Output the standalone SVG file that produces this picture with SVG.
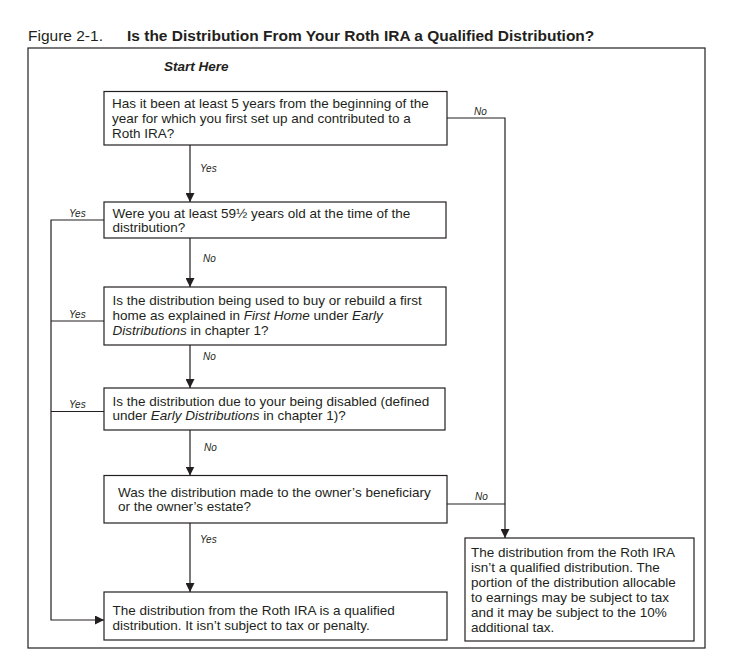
<svg xmlns="http://www.w3.org/2000/svg" width="734" height="670" viewBox="0 0 734 670">
<style>
text{font-family:"Liberation Sans",Arial,Helvetica,sans-serif;fill:#231f20}
.t{font-size:13.5px}
.lbl{font-size:10px;font-style:italic}
.box{fill:#fff;stroke:#231f20;stroke-width:1.2}
.ln{fill:none;stroke:#231f20;stroke-width:1.2}
.i{font-style:italic}
</style>
<defs>
<marker id="ah" markerWidth="9" markerHeight="9" refX="9" refY="4.5" orient="auto" markerUnits="userSpaceOnUse">
<path d="M0,0 L9,4.5 L0,9 Z" fill="#231f20"/>
</marker>
</defs>
<rect width="734" height="670" fill="#fff"/>
<g id="title">
<text x="28" y="41" style="font-size:15.5px">Figure 2-1.</text>
<text x="127" y="41" style="font-size:15.5px;font-weight:bold">Is the Distribution From Your Roth IRA a Qualified Distribution?</text>
</g>
<rect id="frame" x="28" y="48" width="677" height="600" fill="none" stroke="#231f20" stroke-width="1.2"/>
<text x="164" y="71" class="t" style="font-weight:bold;font-style:italic">Start Here</text>
<g id="connectors">
<line class="ln" x1="190" y1="145" x2="190" y2="202" marker-end="url(#ah)"/>
<line class="ln" x1="190" y1="238" x2="190" y2="287" marker-end="url(#ah)"/>
<line class="ln" x1="190" y1="345" x2="190" y2="388" marker-end="url(#ah)"/>
<line class="ln" x1="190" y1="430" x2="190" y2="475.5" marker-end="url(#ah)"/>
<line class="ln" x1="190" y1="523" x2="190" y2="592" marker-end="url(#ah)"/>
<polyline class="ln" points="447,118 505,118 505,538" marker-end="url(#ah)"/>
<polyline class="ln" points="447,504 505,504"/>
<polyline class="ln" points="104,220 51,220 51,620 104,620" marker-end="url(#ah)"/>
<line class="ln" x1="51" y1="321" x2="104" y2="321"/>
<line class="ln" x1="51" y1="411.5" x2="104" y2="411.5"/>
<text x="200" y="172" class="lbl">Yes</text>
<text x="203" y="262" class="lbl">No</text>
<text x="203" y="360" class="lbl">No</text>
<text x="204" y="451" class="lbl">No</text>
<text x="200" y="543" class="lbl">Yes</text>
<text x="474" y="115" class="lbl">No</text>
<text x="475" y="500" class="lbl">No</text>
<text x="69" y="217" class="lbl">Yes</text>
<text x="69" y="318" class="lbl">Yes</text>
<text x="69" y="408" class="lbl">Yes</text>
</g>
<g id="q1">
<rect class="box" x="104" y="91.5" width="343" height="53.5"/>
<text class="t" x="112" y="107.5">Has it been at least 5 years from the beginning of the</text>
<text class="t" x="112" y="122.5">year for which you first set up and contributed to a</text>
<text class="t" x="112" y="137.5">Roth IRA?</text>
</g>
<g id="q2">
<rect class="box" x="104" y="202" width="342" height="36"/>
<text class="t" x="112.5" y="217.5">Were you at least 59½ years old at the time of the</text>
<text class="t" x="112.5" y="232">distribution?</text>
</g>
<g id="q3">
<rect class="box" x="104" y="287" width="342" height="58"/>
<text class="t" x="112.5" y="305">Is the distribution being used to buy or rebuild a first</text>
<text class="t" x="112.5" y="320">home as explained in <tspan class="i">First Home</tspan> under <tspan class="i">Early</tspan></text>
<text class="t" x="112.5" y="335"><tspan class="i">Distributions</tspan> in chapter 1?</text>
</g>
<g id="q4">
<rect class="box" x="104" y="388" width="341" height="42"/>
<text class="t" x="112.5" y="405.5">Is the distribution due to your being disabled (defined</text>
<text class="t" x="112.5" y="420"><tspan>under </tspan><tspan class="i">Early Distributions</tspan> in chapter 1)?</text>
</g>
<g id="q5">
<rect class="box" x="104" y="475.5" width="343" height="47.5"/>
<text class="t" x="118" y="496.5">Was the distribution made to the owner’s beneficiary</text>
<text class="t" x="118" y="511">or the owner’s estate?</text>
</g>
<g id="notQualified">
<rect class="box" x="465" y="538" width="229" height="103"/>
<text class="t" x="471" y="557">The distribution from the Roth IRA</text>
<text class="t" x="471" y="572">isn’t a qualified distribution. The</text>
<text class="t" x="471" y="587">portion of the distribution allocable</text>
<text class="t" x="471" y="602">to earnings may be subject to tax</text>
<text class="t" x="471" y="617">and it may be subject to the 10%</text>
<text class="t" x="471" y="632">additional tax.</text>
</g>
<g id="qualified">
<rect class="box" x="104" y="592" width="343" height="48"/>
<text class="t" x="112.5" y="615">The distribution from the Roth IRA is a qualified</text>
<text class="t" x="112.5" y="629.5">distribution. It isn’t subject to tax or penalty.</text>
</g>
</svg>
